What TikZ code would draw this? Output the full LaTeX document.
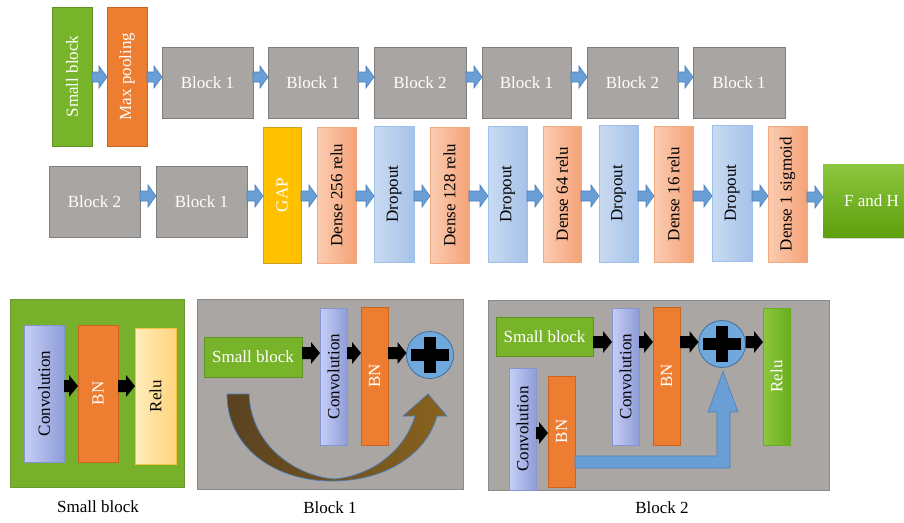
\documentclass[tikz,border=0pt]{standalone}
\usepackage{fontspec}
\setmainfont{Liberation Serif}
\usepackage{graphicx}
\usetikzlibrary{calc,shadows}
\definecolor{sgreen}{HTML}{78B42A}
\definecolor{sgreenb}{HTML}{5F9222}
\definecolor{orng}{HTML}{ED7D31}
\definecolor{orngb}{HTML}{C9651F}
\definecolor{gbox}{HTML}{A9A5A3}
\definecolor{gboxb}{HTML}{7F7F7F}
\definecolor{gapy}{HTML}{FFC000}
\definecolor{gapb}{HTML}{C9A227}
\definecolor{denseL}{HTML}{FBCDB2}
\definecolor{denseR}{HTML}{F5A277}
\definecolor{denseb}{HTML}{F4A77E}
\definecolor{dropL}{HTML}{CADBF2}
\definecolor{dropR}{HTML}{A5C2E8}
\definecolor{dropb}{HTML}{9DC0E8}
\definecolor{convL}{HTML}{C7CFF6}
\definecolor{convR}{HTML}{8E9DD8}
\definecolor{convb}{HTML}{8396D2}
\definecolor{reluL}{HTML}{FFEDBA}
\definecolor{reluR}{HTML}{FFD47E}
\definecolor{relub}{HTML}{F5C242}
\definecolor{rgL}{HTML}{8EC63F}
\definecolor{rgR}{HTML}{6AAE1F}
\definecolor{fhT}{HTML}{8DC63F}
\definecolor{fhB}{HTML}{5E9F0D}
\definecolor{panelg}{HTML}{77B12B}
\definecolor{panelgb}{HTML}{6B9A35}
\definecolor{panelgr}{HTML}{A9A6A4}
\definecolor{panelgrb}{HTML}{8A8A8A}
\definecolor{arrblue}{HTML}{6A9FD6}
\definecolor{arrblueb}{HTML}{4A7EBB}
\definecolor{circf}{HTML}{6FA8DC}
\definecolor{circb}{HTML}{41719C}
\definecolor{brL}{HTML}{5A4221}
\definecolor{brR}{HTML}{88631E}
\newcommand\fs{\fontsize{17}{20}\selectfont}
\newcommand\vtext[1]{\rotatebox{90}{#1}}
% box: [style]{name}{x1}{y1}{x2}{y2}{text}
\newcommand\bx[7][]{\node[#1, minimum width={(#5-#3)*1pt}, minimum height={(#6-#4)*1pt}] (#2) at ({(#3+#5)/2},{(#4+#6)/2}) {#7};}
% block arrow: style, from, to, y
\newcommand\barrow[4]{\path[#1] let \p1=(#2.east), \p2=(#3.west), \p3=(0,#4) in
 (\x1,\y3+5pt) -- (\x2-8pt,\y3+5pt) -- (\x2-8pt,\y3+11pt) -- (\x2,\y3) -- (\x2-8pt,\y3-11pt) -- (\x2-8pt,\y3-5pt) -- (\x1,\y3-5pt) -- cycle;}
\newcommand\karrow[4]{\path[#1] let \p1=(#2.east), \p2=(#3.west), \p3=(0,#4) in
 (\x1,\y3+6pt) -- (\x2-9pt,\y3+6pt) -- (\x2-9pt,\y3+11pt) -- (\x2,\y3) -- (\x2-9pt,\y3-11pt) -- (\x2-9pt,\y3-6pt) -- (\x1,\y3-6pt) -- cycle;}
\tikzset{
 base/.style={inner sep=0pt, outer sep=0pt, line width=0.8pt, font=\fs, rectangle},
 greenbox/.style={base, fill=sgreen, draw=sgreenb, text=white},
 orangebox/.style={base, fill=orng, draw=orngb, text=white},
 graybox/.style={base, fill=gbox, draw=gboxb, text=white},
 gapbox/.style={base, fill=gapy, draw=gapb, text=white},
 densebox/.style={base, left color=denseL, right color=denseR, draw=denseb, text=black},
 dropbox/.style={base, left color=dropL, right color=dropR, draw=dropb, text=black},
 convbox/.style={base, left color=convL, right color=convR, draw=convb, text=black},
 relubox/.style={base, left color=reluL, right color=reluR, draw=relub, text=black},
 relugbox/.style={base, left color=rgL, right color=rgR, draw=rgR, text=white},
 fhbox/.style={base, top color=fhT, bottom color=fhB, draw=none, text=white, drop shadow={shadow xshift=2pt, shadow yshift=-2pt, opacity=0.35}},
 panelgreen/.style={base, fill=panelg, draw=panelgb},
 panelgray/.style={base, fill=panelgr, draw=panelgrb},
 bluearrow/.style={fill=arrblue, draw=arrblueb, line width=0.6pt},
 blackarrow/.style={fill=black},
 plusc/.style={circle, fill=circf, draw=circb, line width=0.8pt, minimum size=47pt, inner sep=0pt, outer sep=0pt},
 caption/.style={font=\fs, text=black, inner sep=0pt}
}
\begin{document}
\begin{tikzpicture}[x=1pt,y=-1pt]
\path[use as bounding box, clip] (0,0) rectangle (904,522);
% ---- top row
\bx[greenbox]{sb}{52}{7}{92}{146}{\vtext{Small block}}
\bx[orangebox]{mp}{107}{7}{147}{146}{\vtext{Max pooling}}
\bx[graybox]{t1}{162}{47}{253}{118}{Block 1}
\bx[graybox]{t2}{268}{47}{358}{118}{Block 1}
\bx[graybox]{t3}{374}{47}{466}{118}{Block 2}
\bx[graybox]{t4}{482}{47}{571}{118}{Block 1}
\bx[graybox]{t5}{587}{47}{678}{118}{Block 2}
\bx[graybox]{t6}{693}{47}{785}{118}{Block 1}
\barrow{bluearrow}{sb}{mp}{77}
\barrow{bluearrow}{mp}{t1}{77}
\barrow{bluearrow}{t1}{t2}{77}
\barrow{bluearrow}{t2}{t3}{77}
\barrow{bluearrow}{t3}{t4}{77}
\barrow{bluearrow}{t4}{t5}{77}
\barrow{bluearrow}{t5}{t6}{77}
% ---- second row
\bx[graybox]{c1}{49}{166}{140}{237}{Block 2}
\bx[graybox]{c2}{156}{166}{247}{237}{Block 1}
\bx[gapbox]{gap}{263}{127}{301}{263}{\vtext{GAP}}
\bx[densebox]{d1}{317}{127}{356}{263}{\vtext{Dense 256 relu}}
\bx[dropbox]{o1}{374}{126}{414}{262}{\vtext{Dropout}}
\bx[densebox]{d2}{430}{127}{469}{263}{\vtext{Dense 128 relu}}
\bx[dropbox]{o2}{488}{126}{527}{262}{\vtext{Dropout}}
\bx[densebox]{d3}{543}{126}{581}{262}{\vtext{Dense 64 relu}}
\bx[dropbox]{o3}{599}{125}{638}{262}{\vtext{Dropout}}
\bx[densebox]{d4}{654}{126}{693}{262}{\vtext{Dense 16 relu}}
\bx[dropbox]{o4}{712}{125}{752}{261}{\vtext{Dropout}}
\bx[densebox]{d5}{768}{126}{807}{262}{\vtext{Dense 1 sigmoid}}
\bx[fhbox]{fh}{823}{164}{920}{237}{F and H}
\barrow{bluearrow}{c1}{c2}{196}
\barrow{bluearrow}{c2}{gap}{196}
\barrow{bluearrow}{gap}{d1}{196}
\barrow{bluearrow}{d1}{o1}{196}
\barrow{bluearrow}{o1}{d2}{196}
\barrow{bluearrow}{d2}{o2}{196}
\barrow{bluearrow}{o2}{d3}{196}
\barrow{bluearrow}{d3}{o3}{196}
\barrow{bluearrow}{o3}{d4}{196}
\barrow{bluearrow}{d4}{o4}{196}
\barrow{bluearrow}{o4}{d5}{196}
\barrow{bluearrow}{d5}{fh}{197}
% ---- panel: Small block
\bx[panelgreen]{pa}{10}{299}{184}{487}{}
\bx[convbox]{pacv}{24}{325}{64}{462}{\vtext{Convolution}}
\bx[orangebox]{pabn}{78}{325}{118}{462}{\vtext{BN}}
\bx[relubox]{parl}{135}{328}{176}{464}{\vtext{Relu}}
\karrow{blackarrow}{pacv}{pabn}{386}
\karrow{blackarrow}{pabn}{parl}{386}
\node[caption] (capa) at (98,507) {Small block};
% ---- panel: Block 1
\bx[panelgray]{pb}{197}{299}{463}{489}{}
\path[draw=arrblueb, line width=0.7pt, left color=brL, right color=brR]
 (227,394) .. controls (227,448) and (275,481) .. (332,481)
 .. controls (385,481) and (426,455) .. (437,416)
 -- (447,416) -- (428,394) -- (403,416) -- (415,416)
 .. controls (405,450) and (372,476) .. (334,479)
 .. controls (296,476) and (251,446) .. (249,394) -- cycle;
\bx[greenbox]{pbsb}{204}{337}{302}{377}{Small block}
\bx[convbox]{pbcv}{320}{308}{347}{445}{\vtext{Convolution}}
\bx[orangebox]{pbbn}{361}{307}{388}{445}{\vtext{BN}}
\node[plusc] (pbp) at (430,355) {};
\fill ([shift={(-19,-6)}]pbp.center) rectangle ([shift={(19,6)}]pbp.center);
\fill ([shift={(-6,-18)}]pbp.center) rectangle ([shift={(6,18)}]pbp.center);
\karrow{blackarrow}{pbsb}{pbcv}{353}
\karrow{blackarrow}{pbcv}{pbbn}{353}
\karrow{blackarrow}{pbbn}{pbp}{353}
\node[caption] (capb) at (330,508) {Block 1};
% ---- panel: Block 2
\bx[panelgray]{pc}{488}{300}{829}{490}{}
\bx[greenbox]{pcsb}{496}{317}{593}{356}{Small block}
\bx[convbox]{pccv}{612}{308}{639}{445}{\vtext{Convolution}}
\bx[orangebox]{pcbn}{653}{307}{680}{445}{\vtext{BN}}
\node[plusc] (pcp) at (722,344) {};
\fill ([shift={(-19,-6)}]pcp.center) rectangle ([shift={(19,6)}]pcp.center);
\fill ([shift={(-6,-18)}]pcp.center) rectangle ([shift={(6,18)}]pcp.center);
\bx[relugbox]{pcrl}{763}{308}{790}{445}{\vtext{Relu}}
\bx[convbox]{pccv2}{509}{368}{536}{490}{\vtext{Convolution}}
\bx[orangebox]{pcbn2}{548}{376}{575}{487}{\vtext{BN}}
\karrow{blackarrow}{pcsb}{pccv}{342}
\karrow{blackarrow}{pccv}{pcbn}{342}
\karrow{blackarrow}{pcbn}{pcp}{342}
\karrow{blackarrow}{pcp}{pcrl}{342}
\karrow{blackarrow}{pccv2}{pcbn2}{433}
\path[bluearrow] let \p1=(pcbn2.east), \p2=(pcp.south), \p3=(0,456), \p4=(0,412), \p5=(0,468) in
 (\x1,\y3) -- (\x2-5pt,\y3) -- (\x2-5pt,\y4) -- (\x2-14pt,\y4) -- (\x2+1pt,\y2-4pt) -- (\x2+16pt,\y4) -- (\x2+8pt,\y4) -- (\x2+8pt,\y5) -- (\x1,\y5) -- cycle;
\node[caption] (capc) at (662,508) {Block 2};
\end{tikzpicture}
\end{document}
